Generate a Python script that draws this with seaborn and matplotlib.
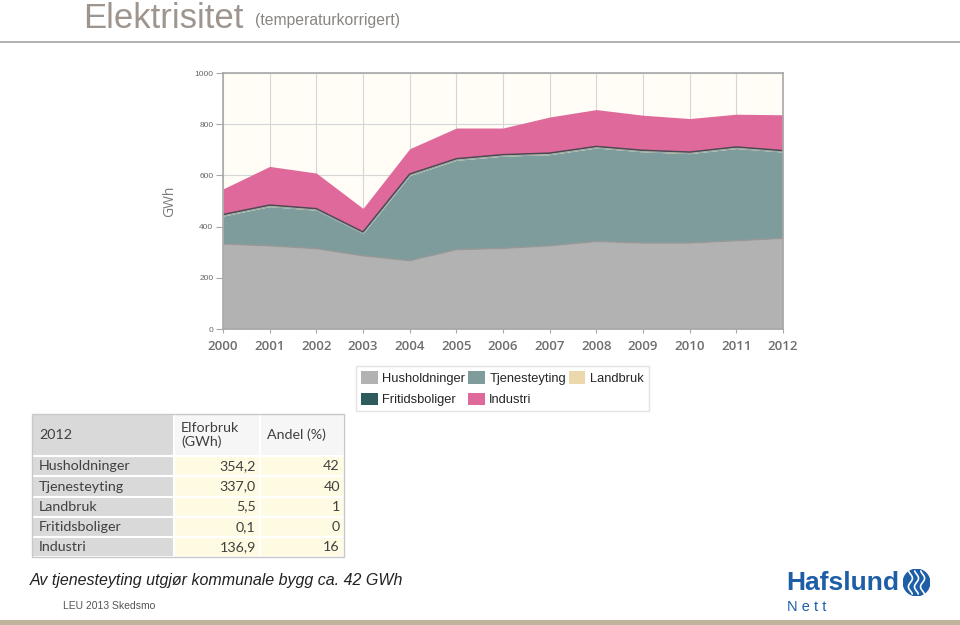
import numpy as np
import matplotlib
matplotlib.use("Agg")
import matplotlib.pyplot as plt
from matplotlib.patches import Rectangle, Circle
import seaborn as sns

# data
years = list(range(2000, 2013))
husholdninger = [332, 325, 314, 286, 267, 310, 315, 325, 342, 336, 336, 345, 354.2]
tjenesteyting = [109, 153, 150, 87, 332, 349, 360, 356, 365, 356, 349, 360, 337.0]
landbruk = [6, 6, 6, 6, 6, 6, 6, 6, 6, 6, 6, 6, 5.5]
fritidsboliger = [0.1] * 13
industri = [100, 151, 139, 92, 99, 120, 104, 141, 144, 137, 131, 128, 140]

series_names = ['Husholdninger', 'Tjenesteyting', 'Landbruk', 'Fritidsboliger', 'Industri']
series_colors = ['#b2b2b2', '#7f9c9c', '#ecd8ac', '#2e5c5c', '#e0699b']

table_header = ['2012', 'Elforbruk\n(GWh)', 'Andel (%)']
table_values = ['354,2', '337,0', '5,5', '0,1', '136,9']
table_shares = ['42', '40', '1', '0', '16']

sns.set_theme(style="white")
plt.rcParams['font.family'] = ['Liberation Sans', 'DejaVu Sans']

fig = plt.figure(figsize=(9.6, 6.25), dpi=100)
W, H = 960, 625


def fx(px):
    return px / W


def fy(py):
    return 1 - py / H


# heading
fig.text(fx(83), fy(18), 'Elektrisitet', fontsize=25, color='#9e968e', va='center', ha='left')
fig.text(fx(255), fy(20), '(temperaturkorrigert)', fontsize=11.3, color='#8a8580', va='center', ha='left')
fig.add_artist(plt.Line2D([0, 1], [fy(42), fy(42)], color='#a6a6a6', lw=1.2))

# stacked area chart
ax = fig.add_axes([fx(223), fy(329), fx(783) - fx(223), fy(73) - fy(329)])
ax.set_facecolor('#fffdf6')
stack = [husholdninger, tjenesteyting, landbruk, fritidsboliger, industri]
ax.stackplot(years, *stack, colors=series_colors, labels=series_names, linewidth=0)
cum = np.cumsum(np.array(stack), axis=0)
sns.lineplot(x=years, y=cum[0], ax=ax, color='#989898', lw=1.0, legend=False)
sns.lineplot(x=years, y=cum[1], ax=ax, color='#8fa8a8', lw=0.8, legend=False)
sns.lineplot(x=years, y=cum[3], ax=ax, color='#4a4a55', lw=1.1, legend=False)

ax.set_xlim(2000, 2012)
ax.set_ylim(0, 1000)
ax.set_xticks(years)
ax.set_yticks(range(0, 1001, 200))
ax.grid(True, color='#d6d6d6', lw=0.8)
ax.set_axisbelow(True)
for sp in ax.spines.values():
    sp.set_color('#a8a8a8')
    sp.set_linewidth(1.2)
ax.tick_params(axis='y', left=True, length=5, width=0.8, color='#a8a8a8',
               labelsize=6, labelcolor='#666666', pad=2)
ax.tick_params(axis='x', bottom=True, length=3, width=0.8, color='#a8a8a8',
               labelsize=9.5, labelcolor='#6e6e6e', pad=5)
for lbl in ax.get_xticklabels():
    lbl.set_family(['Open Sans', 'DejaVu Sans'])
    lbl.set_fontweight('semibold')
ax.set_ylabel('GWh', fontsize=10, color='#7a7a7a', family=['Open Sans', 'DejaVu Sans'], labelpad=12)

# legend, row-major order
handles, labels = ax.get_legend_handles_labels()
order = [0, 3, 1, 4, 2]
leg = fig.legend([handles[i] for i in order], [labels[i] for i in order],
                 ncol=3, loc='upper left', bbox_to_anchor=(fx(356), fy(366)),
                 fontsize=9.3, frameon=True, fancybox=False, edgecolor='#dddddd',
                 handlelength=1.3, handleheight=1.1, handletextpad=0.35,
                 columnspacing=0.2, labelspacing=0.6, borderpad=0.4, borderaxespad=0)
leg.get_frame().set_linewidth(1.0)

# table
tax = fig.add_axes([fx(32), fy(557), fx(344) - fx(32), fy(414) - fy(557)])
tax.axis('off')
cell_text = [table_header] + [[n, v, s] for n, v, s in zip(series_names, table_values, table_shares)]
tbl = tax.table(cellText=cell_text, colWidths=[142, 86, 84], bbox=[0, 0, 1, 1])
tbl.auto_set_font_size(False)
for (r, c), cell in tbl.get_celld().items():
    cell.set_height(2.1 if r == 0 else 1.0)
    cell.set_edgecolor('#ffffff')
    cell.set_linewidth(1.5)
    txt = cell.get_text()
    txt.set_fontsize(10.3)
    txt.set_color('#404040')
    txt.set_family(['Lato', 'DejaVu Sans'])
    if c == 0:
        cell.set_facecolor('#d9d9d9')
        cell.set_text_props(ha='left')
        cell.PAD = 0.05
    elif r == 0:
        cell.set_facecolor('#f6f6f6')
        cell.set_text_props(ha='left')
        cell.PAD = 0.08
    else:
        cell.set_facecolor('#fffbe3')
        cell.set_text_props(ha='right')
        cell.PAD = 0.05
tax.add_patch(Rectangle((0, 0), 1, 1, transform=tax.transAxes, fill=False,
                        edgecolor='#c8c8c8', lw=1.0, zorder=5, clip_on=False))

# footer texts
fig.text(fx(30), fy(580), 'Av tjenesteyting utgjør kommunale bygg ca. 42 GWh',
         fontsize=11.5, style='italic', color='#222222', va='center', ha='left')
fig.text(fx(63), fy(606), 'LEU 2013 Skedsmo', fontsize=7.5, color='#555555', va='center', ha='left')

# logo
fig.text(fx(786), fy(583), 'Hafslund', fontsize=19, fontweight='bold', color='#1d5ea6',
         va='center', ha='left')
fig.text(fx(787), fy(607), 'N e t t', fontsize=10.5, color='#1d5ea6', va='center', ha='left')
logo = fig.add_axes([fx(903), fy(597), fx(930) - fx(903), fy(568) - fy(597)])
logo.set_xlim(-1, 1)
logo.set_ylim(-1, 1)
logo.set_aspect('equal')
logo.axis('off')
logo.add_patch(Circle((0, 0), 0.98, color='#1d5ea6'))
t = np.linspace(-0.85, 0.85, 50)
for off in (-0.45, 0.0, 0.45):
    logo.plot(off + 0.15 * np.sin(t * 5), t, color='white', lw=1.2)

# bottom band
fig.add_artist(Rectangle((0, 0), 1, fy(620), transform=fig.transFigure,
                         color='#bfb39c', lw=0))

fig.savefig('out.png', dpi=100, facecolor='white')
